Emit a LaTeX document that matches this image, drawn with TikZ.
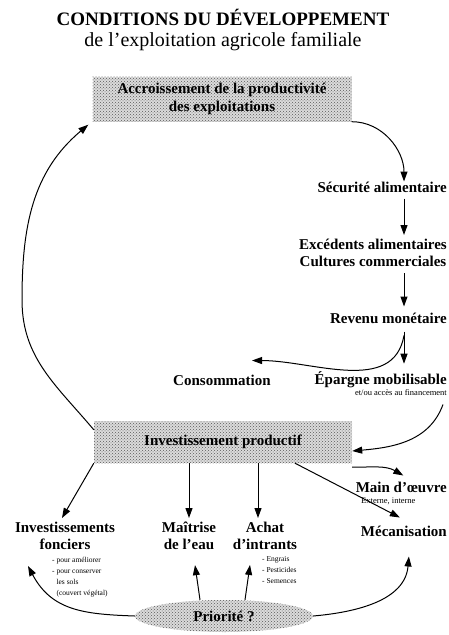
\documentclass[tikz,border=0pt]{standalone}
\usepackage{fontspec}
\setmainfont{Liberation Serif}
\usetikzlibrary{patterns,arrows.meta,shapes.geometric}

\begin{document}
\begin{tikzpicture}[x=1pt,y=-1pt,
  lbl/.style={font=\bfseries\fontsize{15}{17}\selectfont, align=center, inner sep=0pt},
  note/.style={font=\fontsize{7.5}{11}\selectfont, align=left, inner sep=0pt},
  arr/.style={-{Triangle[length=10pt,width=7pt]}, line width=1pt},
  shade/.style={preaction={fill=black!14}, pattern=crosshatch dots, pattern color=black!65},
  hub/.style={shade, font=\bfseries\fontsize{15}{17.5}\selectfont, align=center, inner sep=0pt}
]
\useasboundingbox (0,0) rectangle (449,635);

% titles
\node[font=\bfseries\fontsize{19}{21}\selectfont, inner sep=0pt] (title) at (223,17) {CONDITIONS DU DÉVELOPPEMENT};
\node[font=\fontsize{20}{22}\selectfont, inner sep=0pt] (subtitle) at (223,42) {de l'exploitation agricole familiale};

% shaded hubs
\node[hub, minimum width=259pt, minimum height=45pt] (acc) at (222,99)
  {Accroissement de la productivité\\des exploitations};
\node[hub, minimum width=258pt, minimum height=42pt] (inv) at (223,442)
  {Investissement productif};
\node[hub, ellipse, minimum width=178pt, minimum height=32pt] (prio) at (224,616)
  {Priorité ?};

% right-hand column
\coordinate (colx) at (404,0);
\node[lbl, anchor=east] (secu) at (447,187) {Sécurité alimentaire};
\node[lbl, anchor=east] (exc) at (447,253) {Excédents alimentaires\\Cultures commerciales};
\node[lbl, anchor=east] (rev) at (447,318) {Revenu monétaire};
\node[lbl] (conso) at (222,380) {Consommation};
\node[lbl, anchor=east] (epar) at (447,380) {Épargne mobilisable};
\node[note, font=\fontsize{8.5}{10}\selectfont, anchor=north east] (fin) at (447,389) {et/ou accès au financement};

% investment targets
\node[lbl, anchor=north] (fonc) at (65,522) {Investissements\\fonciers};
\node[lbl, anchor=north] (eau) at (189,522) {Maîtrise\\de l'eau};
\node[lbl, anchor=north] (ach) at (265,522) {Achat\\d'intrants};
\node[lbl, anchor=east] (meca) at (447,531) {Mécanisation};
\node[lbl, anchor=east] (mo) at (447,487) {Main d'œuvre};
\node[note, font=\fontsize{8.5}{10}\selectfont, anchor=north west] (mon) at (361,498) {Externe, interne};

\node[note, anchor=north west] (foncl) at (52,557)
  {- pour améliorer\\- pour conserver\\\phantom{- }les sols\\\phantom{- }(couvert végétal)};
\node[note, anchor=north west] (achl) at (262,556)
  {- Engrais\\- Pesticides\\- Semences};

% main cycle
\draw[arr] (acc.south east) to[out=0,in=90] (secu.north -| colx);
\draw[arr] ([yshift=-6pt]secu.south -| colx) -- ([yshift=4pt]exc.north -| colx);
\draw[arr] ([yshift=-6pt]exc.south -| colx) -- ([yshift=6pt]rev.north -| colx);
\draw[arr] ([yshift=-8pt]rev.south -| colx) -- ([yshift=8pt]epar.north -| colx);
\draw[arr] ([yshift=-12pt]rev.south -| colx) to[out=-100,in=0] ([xshift=30pt,yshift=14pt]conso.north);
\draw[arr] ([xshift=-4pt,yshift=-9pt]fin.south east) to[out=-110,in=5] ([yshift=-9pt]inv.east);
\draw[arr] ([yshift=-9pt]inv.north west) to[out=130,in=-90] (22,300) to[out=90,in=-140] ([xshift=-4pt,yshift=-3pt]acc.south west);

% investment branches
\draw[arr] (inv.south west) -- ([xshift=-3pt,yshift=4pt]fonc.north);
\draw[arr] (inv.south -| eau.north) -- ([yshift=4pt]eau.north);
\draw[arr] ([xshift=-7pt]inv.south -| ach.north) -- ([xshift=-7pt,yshift=4pt]ach.north);
\draw[arr] ([xshift=72pt]inv.south) -- ([xshift=-4pt,yshift=8pt]meca.north);
\draw[arr] ([yshift=-4pt]inv.south east) to[out=0,in=150] ([xshift=2pt,yshift=6pt]mo.north);

% priority arrows
\draw[arr] (prio.west) to[out=178,in=-62,looseness=1.1] (28,566);
\draw[arr] ([xshift=-24pt]prio.north) -- ([xshift=6pt,yshift=-15pt]eau.south);
\draw[arr] ([xshift=21pt]prio.north) -- ([xshift=-15pt,yshift=-15pt]ach.south);
\draw[arr] (prio.east) to[out=5,in=-95] ([xshift=5pt,yshift=-20pt]meca.south);
\end{tikzpicture}
\end{document}
